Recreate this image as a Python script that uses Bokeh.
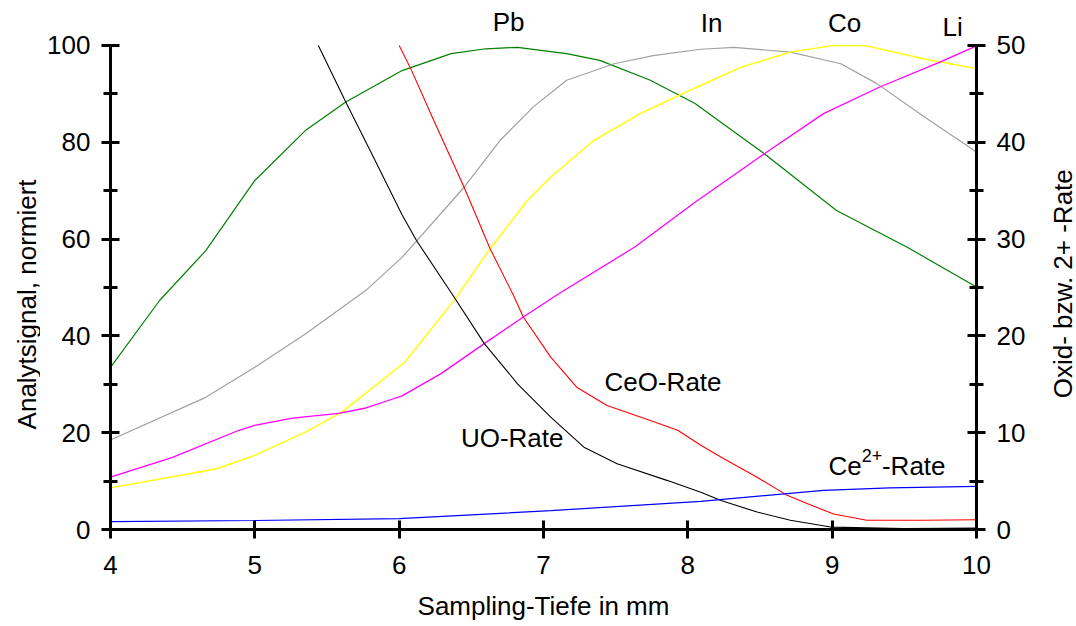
import math
from bokeh.plotting import figure
from bokeh.layouts import row
from bokeh.models import Range1d, LinearAxis, FixedTicker, Label
from bokeh.core.properties import value
from bokeh.embed import file_html
from bokeh.resources import INLINE

# ---------------- data ----------------
# left axis: normalised analyte signal (0-100)
pb_x = [4.0, 4.34, 4.66, 5.0, 5.35, 5.63, 6.02, 6.36, 6.6, 6.82, 7.16, 7.39, 7.74, 8.05, 8.53, 9.03, 9.52, 10.0]
pb_y = [33.5, 47.3, 57.6, 72.1, 82.4, 88.3, 94.8, 98.3, 99.3, 99.6, 98.3, 96.9, 92.8, 88.0, 77.6, 65.9, 58.3, 50.1]

in_x = [4.0, 4.66, 5.0, 5.35, 5.77, 6.02, 6.45, 6.70, 6.93, 7.16, 7.49, 7.76, 8.09, 8.32, 8.71, 9.06, 9.31, 9.64, 10.0]
in_y = [18.5, 27.3, 33.5, 40.4, 49.4, 56.2, 70.7, 80.4, 87.3, 92.8, 96.2, 97.9, 99.2, 99.6, 98.6, 96.2, 92.1, 85.2, 78.0]

co_x = [4.0, 4.73, 5.0, 5.35, 5.6, 6.04, 6.39, 6.63, 6.89, 7.05, 7.35, 7.67, 8.05, 8.37, 8.71, 9.01, 9.24, 9.64, 10.0]
co_y = [8.6, 12.5, 15.3, 20.1, 24.2, 34.6, 47.7, 58.0, 68.0, 72.8, 80.4, 85.9, 91.2, 95.5, 98.6, 100.0, 99.9, 97.2, 95.2]

li_x = [4.0, 4.43, 4.89, 5.0, 5.26, 5.58, 5.77, 5.93, 6.02, 6.29, 6.59, 6.86, 7.10, 7.63, 8.05, 8.53, 8.94, 9.33, 9.75, 10.0]
li_y = [10.8, 14.9, 20.5, 21.5, 23.0, 24.0, 25.1, 26.7, 27.6, 32.2, 38.4, 43.9, 48.6, 58.3, 67.6, 77.6, 85.9, 91.4, 96.6, 99.9]

# right axis: oxide / doubly charged rates (0-50)
uo_x = [5.44, 5.63, 5.81, 6.02, 6.12, 6.37, 6.59, 6.82, 7.05, 7.28, 7.51, 7.86, 8.09, 8.23, 8.48, 8.71, 8.99, 9.5, 10.0]
uo_y = [50.0, 44.15, 38.8, 32.5, 29.85, 24.25, 19.2, 15.05, 11.6, 8.5, 6.8, 5.05, 3.85, 3.0, 1.8, 0.95, 0.25, 0.1, 0.15]

ceo_x = [6.0, 6.08, 6.24, 6.45, 6.63, 6.79, 6.86, 7.05, 7.23, 7.44, 7.74, 7.93, 8.09, 8.25, 8.48, 8.68, 8.83, 9.01, 9.24, 9.64, 10.0]
ceo_y = [50.0, 47.6, 42.25, 35.35, 29.0, 24.25, 21.95, 17.8, 14.7, 12.8, 11.25, 10.25, 8.7, 7.3, 5.4, 3.6, 2.65, 1.6, 0.95, 0.95, 1.0]

ce2_x = [4.0, 5.0, 6.0, 7.05, 8.09, 8.94, 9.40, 10.0]
ce2_y = [0.82, 0.93, 1.12, 1.95, 2.9, 4.05, 4.3, 4.45]

x_ticks = [4, 5, 6, 7, 8, 9, 10]
left_ticks = [0, 20, 40, 60, 80, 100]
left_minor = [10, 30, 50, 70, 90]
right_ticks = [0, 10, 20, 30, 40, 50]
right_minor = [5, 15, 25, 35, 45]

x_title = "Sampling-Tiefe in mm"
left_title = "Analytsignal, normiert"
right_title = "Oxid- bzw. 2+ -Rate"

FONT = "Liberation Sans"
FS = "26px"

STRIP_W = 40
TOTAL_W = 1076
TOTAL_H = 626
MAIN_W = TOTAL_W - 2 * STRIP_W

p = figure(width=MAIN_W, height=TOTAL_H, output_backend="svg", toolbar_location=None,
           x_range=Range1d(4, 10), y_range=Range1d(0, 107),
           min_border_left=110 - STRIP_W, min_border_right=STRIP_W + MAIN_W - 976,
           min_border_top=11, min_border_bottom=97,
           background_fill_color="white", border_fill_color="white")
p.extra_y_ranges = {"right": Range1d(0, 53.5)}
p.outline_line_color = None
p.xgrid.visible = False
p.ygrid.visible = False

right_axis = LinearAxis(y_range_name="right")
p.add_layout(right_axis, "right")


def style(ax):
    ax.axis_line_width = 3
    ax.axis_line_color = "black"
    ax.major_tick_line_width = 3
    ax.minor_tick_line_width = 3
    ax.major_tick_line_color = "black"
    ax.minor_tick_line_color = "black"
    ax.major_tick_in = 9
    ax.major_tick_out = 9
    ax.minor_tick_in = 7
    ax.minor_tick_out = 7
    ax.major_label_text_font = FONT
    ax.major_label_text_font_size = FS
    ax.major_label_text_color = "black"
    ax.major_label_standoff = 11
    ax.axis_label_text_font = FONT
    ax.axis_label_text_font_size = FS
    ax.axis_label_text_font_style = "normal"
    ax.axis_label_text_color = "black"


xax = p.xaxis[0]
yax = p.yaxis[0]
for ax in [xax, yax, right_axis]:
    style(ax)

xax.ticker = FixedTicker(ticks=x_ticks, minor_ticks=[])
xax.major_label_standoff = 17
xax.bounds = (4, 10)
xax.axis_label = x_title
xax.axis_label_standoff = 14

yax.ticker = FixedTicker(ticks=left_ticks, minor_ticks=left_minor)
yax.bounds = (0, 100)

right_axis.ticker = FixedTicker(ticks=right_ticks, minor_ticks=right_minor)
right_axis.bounds = (0, 50)

# curves
p.line(pb_x, pb_y, line_color="#008000", line_width=1.2)
p.line(in_x, in_y, line_color="#a0a0a0", line_width=1.2)
p.line(co_x, co_y, line_color="#ffff00", line_width=1.4)
p.line(li_x, li_y, line_color="#ff00ff", line_width=1.3)
p.line(uo_x, uo_y, line_color="black", line_width=1.1, y_range_name="right")
p.line(ceo_x, ceo_y, line_color="#ff0000", line_width=1.1, y_range_name="right")
p.line(ce2_x, ce2_y, line_color="#0000ff", line_width=1.2, y_range_name="right")


def lab(x, y, text, size=FS, align="center"):
    p.add_layout(Label(x=x, y=y, text=text, text_font=FONT, text_font_size=size,
                       text_align=align, text_baseline="alphabetic",
                       text_color="black"))


# curve names
lab(6.758, 104.8, "Pb")
lab(8.164, 104.6, "In")
lab(9.086, 104.7, "Co")
lab(9.834, 103.7, "Li")
lab(6.783, 18.9, "UO-Rate")
lab(7.828, 30.5, "CeO-Rate")
lab(8.975, 13.2, "Ce", align="left")
lab(9.205, 15.2, "2+", size="18px", align="left")
lab(9.345, 13.2, "-Rate", align="left")


def strip(text, x, y_from_top):
    s = figure(width=STRIP_W, height=TOTAL_H, output_backend="svg", toolbar_location=None,
               x_range=Range1d(0, STRIP_W), y_range=Range1d(0, TOTAL_H),
               min_border=0, background_fill_color="white", border_fill_color="white")
    s.outline_line_color = None
    s.axis.visible = False
    s.grid.visible = False
    s.text(x=[x], y=[TOTAL_H - y_from_top], text=[text], angle=math.pi / 2,
           text_align="center", text_baseline="middle",
           text_font=value(FONT), text_font_size=FS, text_color="black")
    return s


left_strip = strip(left_title, 26, 354)
right_strip = strip(right_title, 26, 329)

layout = row(left_strip, p, right_strip)
open("out.html", "w").write(file_html(layout, INLINE))
